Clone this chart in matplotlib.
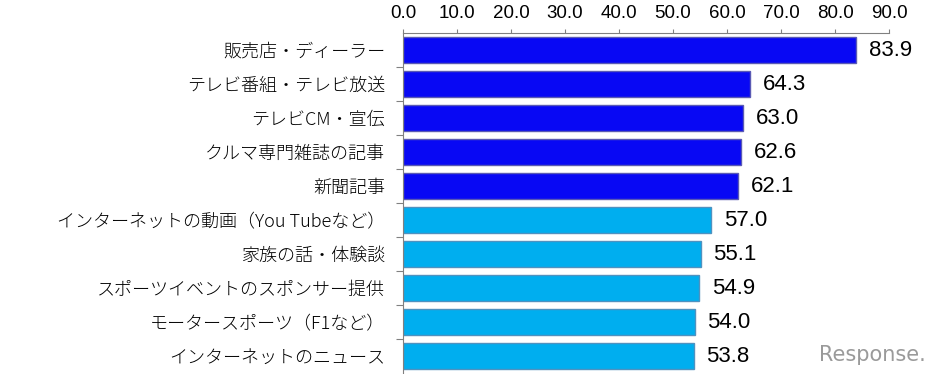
import matplotlib
matplotlib.use("Agg")
import matplotlib.pyplot as plt

plt.rcParams['font.family'] = ['Noto Sans CJK JP', 'DejaVu Sans']

categories = [
    "販売店・ディーラー",
    "テレビ番組・テレビ放送",
    "テレビCM・宣伝",
    "クルマ専門雑誌の記事",
    "新聞記事",
    "インターネットの動画（You Tubeなど）",
    "家族の話・体験談",
    "スポーツイベントのスポンサー提供",
    "モータースポーツ（F1など）",
    "インターネットのニュース",
]
values = [83.9, 64.3, 63.0, 62.6, 62.1, 57.0, 55.1, 54.9, 54.0, 53.8]
bar_colors = ["#0808F4"] * 5 + ["#00AEEF"] * 5
edge_colors = ["#5a5ab4"] * 5 + ["#4f92c0"] * 5
x_ticks = [0, 10, 20, 30, 40, 50, 60, 70, 80, 90]

fig = plt.figure(figsize=(9.38, 3.74), dpi=100)
ax = fig.add_axes([403 / 938, 1 - 373 / 374, 486 / 938, 340 / 374])

ypos = list(range(len(categories)))
ax.barh(ypos, values, height=0.78, color=bar_colors,
        edgecolor=edge_colors, linewidth=1.0, zorder=2)

for y, v in zip(ypos, values):
    ax.text(v + 2.4, y, f"{v:.1f}", va="center", ha="left",
            fontsize=16, family="Liberation Sans", color="black")

ax.set_xlim(0, 90)
ax.set_ylim(len(categories) - 0.5, -0.5)

ax.xaxis.tick_top()
ax.set_xticks(x_ticks)
ax.set_xticklabels([f"{t:.1f}" for t in x_ticks], family="Liberation Sans",
                   fontsize=13.5)
ax.tick_params(axis="x", direction="out", length=3, width=0.8,
               color="#808080", pad=5)

# category labels in the middle of each row, ticks on the row boundaries
ax.set_yticks(ypos)
ax.set_yticklabels(categories, fontsize=13, fontweight="light")
ax.tick_params(axis="y", which="major", length=0, pad=13)
ax.set_yticks([i + 0.5 for i in range(len(categories) - 1)], minor=True)
ax.tick_params(axis="y", which="minor", direction="out", length=5,
               width=0.8, color="#808080")

for side in ["right", "bottom"]:
    ax.spines[side].set_visible(False)
ax.spines["top"].set_color("#808080")
ax.spines["left"].set_color("#808080")
ax.spines["top"].set_linewidth(0.8)
ax.spines["left"].set_linewidth(0.8)

fig.text(0.987, 0.025, "Response.", ha="right", va="bottom", fontsize=15,
         family="DejaVu Sans", color="#9a9a9a")

fig.savefig("out.png", dpi=100)
